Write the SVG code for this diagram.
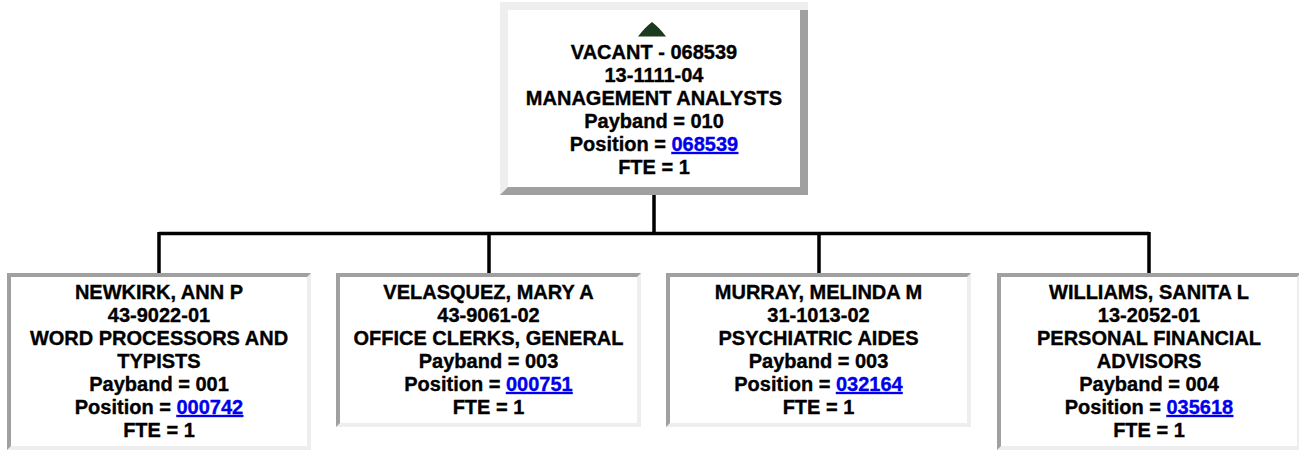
<svg xmlns="http://www.w3.org/2000/svg" width="1299" height="454" viewBox="0 0 1299 454">
<style>
.t{font-family:"Liberation Sans",Arial,sans-serif;font-weight:bold;font-size:20px;fill:#000;stroke:#000;stroke-width:0.35;text-anchor:middle}
.lk{fill:#0000ee;stroke:#0000ee;text-decoration:underline}
.lt{fill:#eeeeee}
.dk{fill:#a0a0a0}
.bg{fill:#ffffff}
.ln{stroke:#000;stroke-width:3.5;fill:none}
</style>
<rect width="1299" height="454" fill="#fff"/>
<g id="connectors">
<path class="ln" d="M654 195V233.5M159 233.5H1149M159 232V273M489 232V273M819 232V273M1149 232V273"/>
</g>
<g id="top">
<rect class="dk" x="500" y="2" width="308" height="193"/>
<polygon class="lt" points="500,2 808,2 808,10 508,10 508,187 500,195"/>
<rect class="bg" x="508" y="10" width="292" height="177"/>
<path d="M652,22 C657,26 661,30 666,36.5 L638,36.5 C643,30 647,26 652,22 Z" fill="#1c3a20"/>
<text class="t" x="654" y="59">VACANT - 068539</text>
<text class="t" x="654" y="82">13-1111-04</text>
<text class="t" x="654" y="105">MANAGEMENT ANALYSTS</text>
<text class="t" x="654" y="128">Payband = 010</text>
<text class="t" x="654" y="151">Position = <tspan class="lk">068539</tspan></text>
<text class="t" x="654" y="174">FTE = 1</text>
</g>
<g id="newkirk">
<rect class="lt" x="7" y="273" width="304" height="177"/>
<polygon class="dk" points="7,273 311,273 307,277 11,277 11,446 7,450"/>
<rect class="bg" x="11" y="277" width="296" height="169"/>
<text class="t" x="159" y="299">NEWKIRK, ANN P</text>
<text class="t" x="159" y="322">43-9022-01</text>
<text class="t" x="159" y="345">WORD PROCESSORS AND</text>
<text class="t" x="159" y="368">TYPISTS</text>
<text class="t" x="159" y="391">Payband = 001</text>
<text class="t" x="159" y="414">Position = <tspan class="lk">000742</tspan></text>
<text class="t" x="159" y="437">FTE = 1</text>
</g>
<g id="velasquez">
<rect class="lt" x="336" y="273" width="305" height="154"/>
<polygon class="dk" points="336,273 641,273 637,277 340,277 340,423 336,427"/>
<rect class="bg" x="340" y="277" width="297" height="146"/>
<text class="t" x="488.5" y="299">VELASQUEZ, MARY A</text>
<text class="t" x="488.5" y="322">43-9061-02</text>
<text class="t" x="488.5" y="345">OFFICE CLERKS, GENERAL</text>
<text class="t" x="488.5" y="368">Payband = 003</text>
<text class="t" x="488.5" y="391">Position = <tspan class="lk">000751</tspan></text>
<text class="t" x="488.5" y="414">FTE = 1</text>
</g>
<g id="murray">
<rect class="lt" x="666" y="273" width="305" height="154"/>
<polygon class="dk" points="666,273 971,273 967,277 670,277 670,423 666,427"/>
<rect class="bg" x="670" y="277" width="297" height="146"/>
<text class="t" x="818.5" y="299">MURRAY, MELINDA M</text>
<text class="t" x="818.5" y="322">31-1013-02</text>
<text class="t" x="818.5" y="345">PSYCHIATRIC AIDES</text>
<text class="t" x="818.5" y="368">Payband = 003</text>
<text class="t" x="818.5" y="391">Position = <tspan class="lk">032164</tspan></text>
<text class="t" x="818.5" y="414">FTE = 1</text>
</g>
<g id="williams">
<rect class="lt" x="997" y="273" width="304" height="177"/>
<polygon class="dk" points="997,273 1301,273 1297,277 1001,277 1001,446 997,450"/>
<rect class="bg" x="1001" y="277" width="296" height="169"/>
<text class="t" x="1149" y="299">WILLIAMS, SANITA L</text>
<text class="t" x="1149" y="322">13-2052-01</text>
<text class="t" x="1149" y="345">PERSONAL FINANCIAL</text>
<text class="t" x="1149" y="368">ADVISORS</text>
<text class="t" x="1149" y="391">Payband = 004</text>
<text class="t" x="1149" y="414">Position = <tspan class="lk">035618</tspan></text>
<text class="t" x="1149" y="437">FTE = 1</text>
</g>
</svg>
